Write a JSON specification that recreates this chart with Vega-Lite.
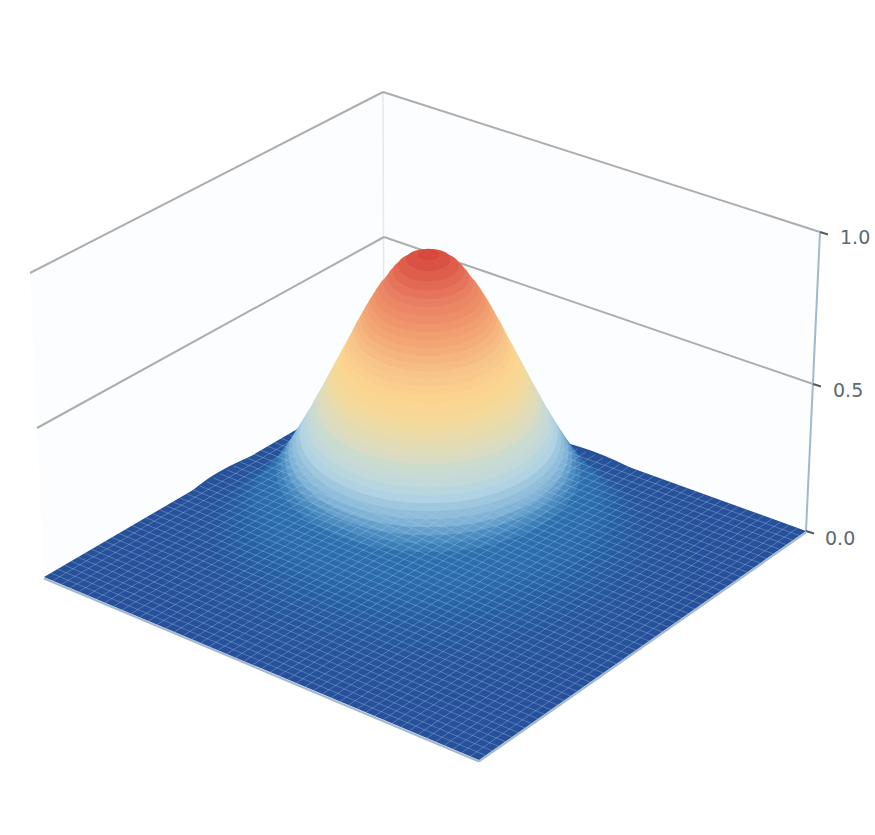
{"$schema":"https://vega.github.io/schema/vega-lite/v6.json","width":875,"height":835,"padding":0,"autosize":{"type":"none"},"background":"white","config":{"view":{"stroke":null}},"resolve":{"scale":{"y":"independent"}},
"datasets":{
"walls":[{"wall":"left","sx":30,"top":273,"bot":273},{"wall":"left","sx":44,"top":266,"bot":577},{"wall":"left","sx":383,"top":92,"bot":379},{"wall":"right","sx":383,"top":92,"bot":379},{"wall":"right","sx":806,"top":227.5,"bot":531},{"wall":"right","sx":820,"top":232,"bot":232}],
"floor":[{"sx":44,"top":577,"bot":577},{"sx":383,"top":379,"bot":719.6},{"sx":479,"top":412.8,"bot":760},{"sx":806,"top":531,"bot":531}],
"grid":[{"a":30,"b":273,"c":383,"d":92},{"a":383,"b":92,"c":820,"d":232},{"a":37,"b":428,"c":384,"d":237},{"a":384,"b":237,"c":813,"d":384}],
"backedge":[{"a":383,"b":92,"c":384,"d":379}],
"axisline":[{"a":806,"b":531,"c":820,"d":232},{"a":44,"b":578.5,"c":479,"d":761.5},{"a":479,"b":761.5,"c":806,"d":532.5}],
"ticks":[{"a":806,"b":531,"c":814,"d":533.5},{"a":813,"b":384,"c":821,"d":386.5},{"a":820,"b":232,"c":828,"d":234.5}],
"labels":[{"sx":840,"sy":238,"t":"1.0"},{"sx":833,"sy":391,"t":"0.5"},{"sx":825,"sy":539,"t":"0.0"}],
"levels":[{"z":0.02,"r":0.981},{"z":0.04,"r":0.89},{"z":0.06,"r":0.832},{"z":0.08,"r":0.788},{"z":0.1,"r":0.753},{"z":0.12,"r":0.722},{"z":0.14,"r":0.695},{"z":0.16,"r":0.671},{"z":0.18,"r":0.649},{"z":0.2,"r":0.629},{"z":0.22,"r":0.61},{"z":0.24,"r":0.592},{"z":0.26,"r":0.576},{"z":0.28,"r":0.56},{"z":0.3,"r":0.544},{"z":0.32,"r":0.529},{"z":0.34,"r":0.515},{"z":0.36,"r":0.501},{"z":0.38,"r":0.488},{"z":0.4,"r":0.475},{"z":0.42,"r":0.462},{"z":0.44,"r":0.449},{"z":0.46,"r":0.437},{"z":0.48,"r":0.425},{"z":0.5,"r":0.413},{"z":0.52,"r":0.401},{"z":0.54,"r":0.389},{"z":0.56,"r":0.378},{"z":0.58,"r":0.366},{"z":0.6,"r":0.355},{"z":0.62,"r":0.343},{"z":0.64,"r":0.331},{"z":0.66,"r":0.32},{"z":0.68,"r":0.308},{"z":0.7,"r":0.296},{"z":0.72,"r":0.285},{"z":0.74,"r":0.274},{"z":0.76,"r":0.262},{"z":0.78,"r":0.25},{"z":0.8,"r":0.238},{"z":0.82,"r":0.225},{"z":0.84,"r":0.212},{"z":0.86,"r":0.198},{"z":0.88,"r":0.183},{"z":0.9,"r":0.165},{"z":0.92,"r":0.15},{"z":0.94,"r":0.132},{"z":0.96,"r":0.112},{"z":0.98,"r":0.082},{"z":0.995,"r":0.04}],
"mesh":[[52.7,580.7,391.5,382],[61.4,584.3,399.9,385.1],[70.1,588,408.4,388.1],[78.8,591.6,416.8,391.2],[87.5,595.3,425.3,394.2],[96.2,599,433.8,397.2],[104.9,602.6,442.2,400.3],[113.6,606.3,450.7,403.3],[122.3,609.9,459.1,406.4],[131,613.6,467.6,409.4],[139.7,617.3,476.1,412.4],[148.4,620.9,484.5,415.5],[157.1,624.6,493,418.5],[165.8,628.2,501.4,421.6],[174.5,631.9,509.9,424.6],[183.2,635.6,518.4,427.6],[191.9,639.2,526.8,430.7],[200.6,642.9,535.3,433.7],[209.3,646.5,543.7,436.8],[218,650.2,552.2,439.8],[226.7,653.9,560.7,442.8],[235.4,657.5,569.1,445.9],[244.1,661.2,577.6,448.9],[252.8,664.8,586,452],[261.5,668.5,594.5,455],[270.2,672.2,603,458],[278.9,675.8,611.4,461.1],[287.6,679.5,619.9,464.1],[296.3,683.1,628.3,467.2],[305,686.8,636.8,470.2],[313.7,690.5,645.3,473.2],[322.4,694.1,653.7,476.3],[331.1,697.8,662.2,479.3],[339.8,701.4,670.6,482.4],[348.5,705.1,679.1,485.4],[357.2,708.8,687.6,488.4],[365.9,712.4,696,491.5],[374.6,716.1,704.5,494.5],[383.3,719.7,712.9,497.6],[392,723.4,721.4,500.6],[400.7,727.1,729.9,503.6],[409.4,730.7,738.3,506.7],[418.1,734.4,746.8,509.7],[426.8,738,755.2,512.8],[435.5,741.7,763.7,515.8],[444.2,745.4,772.2,518.8],[452.9,749,780.6,521.9],[461.6,752.7,789.1,524.9],[470.3,756.3,797.5,528],[50.8,573,485.5,755.4],[57.6,569.1,492.1,750.8],[64.3,565.1,498.6,746.3],[71.1,561.2,505.2,741.7],[77.9,557.2,511.7,737.1],[84.7,553.2,518.2,732.5],[91.5,549.3,524.8,727.9],[98.2,545.3,531.3,723.4],[105,541.4,537.9,718.8],[111.8,537.4,544.4,714.2],[118.6,533.4,550.9,709.6],[125.4,529.5,557.5,705],[132.1,525.5,564,700.5],[138.9,521.6,570.6,695.9],[145.7,517.6,577.1,691.3],[152.5,513.6,583.6,686.7],[159.3,509.7,590.2,682.1],[166,505.7,596.7,677.6],[172.8,501.8,603.3,673],[179.6,497.8,609.8,668.4],[186.4,493.8,616.3,663.8],[193.2,489.9,622.9,659.2],[199.9,485.9,629.4,654.7],[206.7,482,636,650.1],[213.5,478,642.5,645.5],[220.3,474,649,640.9],[227.1,470.1,655.6,636.3],[233.8,466.1,662.1,631.8],[240.6,462.2,668.7,627.2],[247.4,458.2,675.2,622.6],[254.2,454.2,681.7,618],[261,450.3,688.3,613.4],[267.7,446.3,694.8,608.9],[274.5,442.4,701.4,604.3],[281.3,438.4,707.9,599.7],[288.1,434.4,714.4,595.1],[294.9,430.5,721,590.5],[301.6,426.5,727.5,586],[308.4,422.6,734.1,581.4],[315.2,418.6,740.6,576.8],[322,414.6,747.1,572.2],[328.8,410.7,753.7,567.6],[335.5,406.7,760.2,563.1],[342.3,402.8,766.8,558.5],[349.1,398.8,773.3,553.9],[355.9,394.8,779.8,549.3],[362.7,390.9,786.4,544.7],[369.4,386.9,792.9,540.2],[376.2,383,799.5,535.6]]
},
"layer":[
{"data":{"name":"walls"},"mark":{"type":"area","fill":"#fbfdff","interpolate":"linear"},"encoding":{"x":{"field":"sx","type":"quantitative","scale":{"domain":[0,875],"nice":false,"zero":false},"axis":null},"y":{"field":"top","type":"quantitative","scale":{"domain":[835,0],"nice":false,"zero":false},"axis":null},"y2":{"field":"bot"},"detail":{"field":"wall"}}},
{"data":{"name":"backedge"},"mark":{"type":"rule","stroke":"#e6e9ec","strokeWidth":1.5},"encoding":{"x":{"field":"a","type":"quantitative","axis":null},"y":{"field":"b","type":"quantitative","scale":{"domain":[835,0],"nice":false,"zero":false},"axis":null},"x2":{"field":"c"},"y2":{"field":"d"}}},
{"data":{"name":"grid"},"mark":{"type":"rule","stroke":"#adadad","strokeWidth":2},"encoding":{"x":{"field":"a","type":"quantitative","axis":null},"y":{"field":"b","type":"quantitative","scale":{"domain":[835,0],"nice":false,"zero":false},"axis":null},"x2":{"field":"c"},"y2":{"field":"d"}}},
{"data":{"name":"axisline"},"mark":{"type":"rule","stroke":"#a3b8cc","strokeWidth":2},"encoding":{"x":{"field":"a","type":"quantitative","axis":null},"y":{"field":"b","type":"quantitative","scale":{"domain":[835,0],"nice":false,"zero":false},"axis":null},"x2":{"field":"c"},"y2":{"field":"d"}}},
{"data":{"name":"ticks"},"mark":{"type":"rule","stroke":"#4f5b66","strokeWidth":2},"encoding":{"x":{"field":"a","type":"quantitative","axis":null},"y":{"field":"b","type":"quantitative","scale":{"domain":[835,0],"nice":false,"zero":false},"axis":null},"x2":{"field":"c"},"y2":{"field":"d"}}},
{"data":{"name":"floor"},"mark":{"type":"area","fill":"#26509a","interpolate":"linear"},"encoding":{"x":{"field":"sx","type":"quantitative","axis":null},"y":{"field":"top","type":"quantitative","scale":{"domain":[835,0],"nice":false,"zero":false},"axis":null},"y2":{"field":"bot"}}},
{"data":{"name":"levels"},"transform":[{"filter":"datum.z < 0.37"}],"mark":{"type":"point","filled":true,"opacity":1,"shape":"M-1,0A1,0.46,0,0,1,1,0A1,0.54,0,0,1,-1,0Z"},"encoding":{"x":{"datum":428.5,"type":"quantitative","axis":null},"y":{"field":"z","type":"quantitative","scale":{"domain":[0,1],"range":[554,253],"nice":false,"zero":false},"axis":null},"size":{"field":"r","type":"quantitative","legend":null,"scale":{"type":"pow","exponent":2,"domain":[0,1],"range":[0,295936]}},"color":{"field":"z","type":"quantitative","legend":null,"scale":{"domain":[0,0.05,0.1,0.15,0.2,0.26,0.3,0.34,0.4,0.45,0.5,0.55,0.6,0.65,0.72,0.8,0.9,1],"range":["#26509a","#26549b","#265ba0","#2763a6","#2a6bab","#2c70ae","#4a8cc0","#7fb3d6","#b0d2e4","#c8d9d8","#d9dbc4","#e8dbae","#f5d99a","#fbd58f","#f7c48a","#f3a574","#e97f62","#d6453c"]}},"order":{"field":"z","sort":"ascending"}}},
{"data":{"name":"mesh"},"mark":{"type":"rule","stroke":"#a9c8ec","strokeWidth":0.7,"opacity":0.5},"encoding":{"x":{"field":"0","type":"quantitative","axis":null},"y":{"field":"1","type":"quantitative","scale":{"domain":[835,0],"nice":false,"zero":false},"axis":null},"x2":{"field":"2"},"y2":{"field":"3"}}},
{"data":{"name":"levels"},"transform":[{"filter":"datum.z >= 0.37"}],"mark":{"type":"point","filled":true,"opacity":1,"shape":"M-1,0A1,0.46,0,0,1,1,0A1,0.54,0,0,1,-1,0Z"},"encoding":{"x":{"datum":428.5,"type":"quantitative","axis":null},"y":{"field":"z","type":"quantitative","scale":{"domain":[0,1],"range":[554,253],"nice":false,"zero":false},"axis":null},"size":{"field":"r","type":"quantitative","legend":null,"scale":{"type":"pow","exponent":2,"domain":[0,1],"range":[0,295936]}},"color":{"field":"z","type":"quantitative","legend":null},"order":{"field":"z","sort":"ascending"}}},
{"data":{"name":"labels"},"mark":{"type":"text","font":"DejaVu Sans","fontSize":19,"fill":"#5c6873","align":"left","baseline":"middle"},"encoding":{"x":{"field":"sx","type":"quantitative","axis":null},"y":{"field":"sy","type":"quantitative","scale":{"domain":[835,0],"nice":false,"zero":false},"axis":null},"text":{"field":"t"}}}
]}
